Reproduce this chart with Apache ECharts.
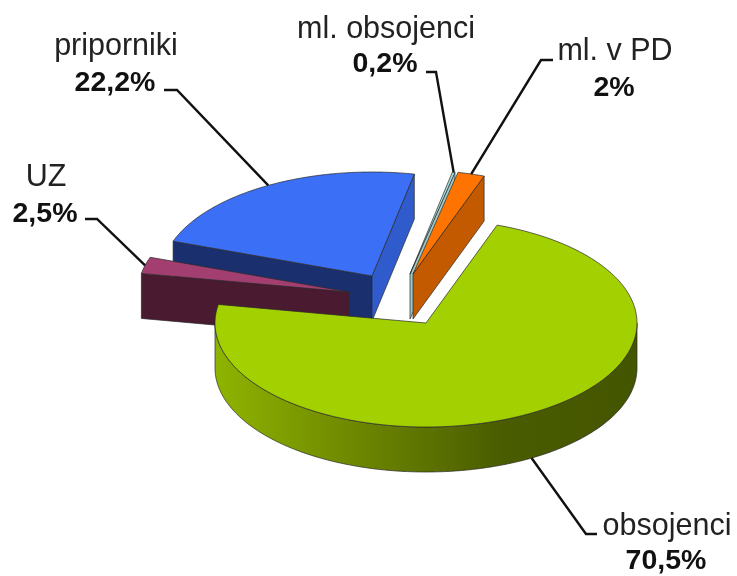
<!DOCTYPE html>
<html>
<head>
<meta charset="utf-8">
<title>Pie</title>
<script src="https://cdn.jsdelivr.net/npm/echarts@6/dist/echarts.min.js"></script>
<style>
  html, body { margin: 0; padding: 0; background: #fff; }
  #main { width: 737px; height: 576px; }
</style>
</head>
<body>
<div id="main"></div>
<script>
// clockwise from the start of the big slice
var categories = ['obsojenci', 'UZ', 'priporniki', 'ml. obsojenci', 'ml. v PD'];
var values = [70.5, 2.5, 22.2, 0.2, 2];
var valueLabels = ['70,5%', '2,5%', '22,2%', '0,2%', '2%'];

// painted back to front
var drawOrder = [2, 3, 4, 1, 0];

var startAngle = 19.7;
var rx = 211, ry = 104, depth = 45;

// where each exploded slice has its tip
var tips = [[426, 323], [349, 292], [372, 276], [410, 274], [413, 274]];

var topColors = ['#a2d000', '#a33e70', '#3b6ff5', '#a9dcdc', '#ff7300'];
var startFaceColors = ['#6c8500', '#4a1a30', '#1a306e', '#9cc8c8', '#c45a00'];
var endFaceColors = ['#6c8500', '#4a1a30', '#2f5bcc', '#9cc8c8', '#c45a00'];

// leader line: elbow and end, then the two text lines
var leaders = [
  [[586, 534], [597, 534]],
  [[97, 219], [85, 219]],
  [[177, 90], [164, 90]],
  [[436, 72], [426, 72]],
  [[541, 60], [553, 60]]
];
var nameAt = [[667, 527], [46, 178], [116, 47], [386, 30], [615, 52]];
var valueAt = [[666, 561], [45, 214], [115, 83], [385, 64], [614, 88]];

var total = values.reduce(function (a, b) { return a + b; }, 0);
var angles = [];
var cursor = startAngle;
for (var k = 0; k < values.length; k++) {
  angles.push([cursor, cursor + values[k] / total * 360]);
  cursor += values[k] / total * 360;
}

function rimPoint(tip, deg, drop) {
  var r = deg * Math.PI / 180;
  return [tip[0] + Math.sin(r) * rx, tip[1] - Math.cos(r) * ry + (drop || 0)];
}

function arcPoints(tip, from, to, drop) {
  var pts = [];
  for (var d = from; d < to; d += 1) {
    pts.push(rimPoint(tip, d, drop));
  }
  pts.push(rimPoint(tip, to, drop));
  return pts;
}

function facePoints(tip, deg) {
  var rim = rimPoint(tip, deg);
  return [tip, rim, [rim[0], rim[1] + depth], [tip[0], tip[1] + depth]];
}

function edge(fill) {
  return { fill: fill, stroke: '#2a2a2a', lineWidth: 0.7 };
}

function renderSlice(params, api) {
  var i = api.value(0);
  var tip = tips[i];
  var a0 = angles[i][0], a1 = angles[i][1];
  var kids = [];

  // cut faces, only the ones turned towards the viewer
  if (Math.sin(a0 * Math.PI / 180) < 0) {
    kids.push({ type: 'polygon', shape: { points: facePoints(tip, a0) }, style: edge(startFaceColors[i]) });
  }
  if (Math.sin(a1 * Math.PI / 180) > 0) {
    kids.push({ type: 'polygon', shape: { points: facePoints(tip, a1) }, style: edge(endFaceColors[i]) });
  }

  // front wall of the rim
  var w0 = Math.max(a0, 90), w1 = Math.min(a1, 270);
  if (w1 > w0) {
    var wall = arcPoints(tip, w0, w1, 0).concat(arcPoints(tip, w0, w1, depth).reverse());
    kids.push({
      type: 'polygon',
      shape: { points: wall },
      style: edge(new echarts.graphic.LinearGradient(0, 0, 1, 0, [
        { offset: 0, color: '#8fb400' },
        { offset: 0.35, color: '#6c8500' },
        { offset: 0.68, color: '#4a5c00' },
        { offset: 1, color: '#445500' }
      ]))
    });
  }

  kids.push({
    type: 'polygon',
    shape: { points: [tip].concat(arcPoints(tip, a0, a1, 0)) },
    style: edge(topColors[i])
  });

  // leader from the middle of the slice out to its label
  var mid = (a0 + a1) / 2;
  var front = Math.cos(mid * Math.PI / 180) < 0;
  kids.push({
    type: 'polyline',
    shape: { points: [rimPoint(tip, mid, front ? depth : 0), leaders[i][0], leaders[i][1]] },
    style: { fill: null, stroke: '#111', lineWidth: 2.4 }
  });

  kids.push({
    type: 'text',
    style: {
      text: categories[i], x: nameAt[i][0], y: nameAt[i][1],
      textAlign: 'center', textVerticalAlign: 'middle',
      font: '30.5px "Liberation Sans"', fill: '#222'
    }
  });
  kids.push({
    type: 'text',
    style: {
      text: valueLabels[i], x: valueAt[i][0], y: valueAt[i][1],
      textAlign: 'center', textVerticalAlign: 'middle',
      font: 'bold 28.5px "Liberation Sans"', fill: '#111'
    }
  });

  return { type: 'group', children: kids };
}

var myChart = echarts.init(document.getElementById('main'));
myChart.setOption({
  animation: false,
  backgroundColor: '#fff',
  series: [{
    type: 'custom',
    coordinateSystem: 'none',
    silent: true,
    renderItem: renderSlice,
    data: drawOrder.map(function (i) { return [i, values[i]]; })
  }]
});
</script>
</body>
</html>
